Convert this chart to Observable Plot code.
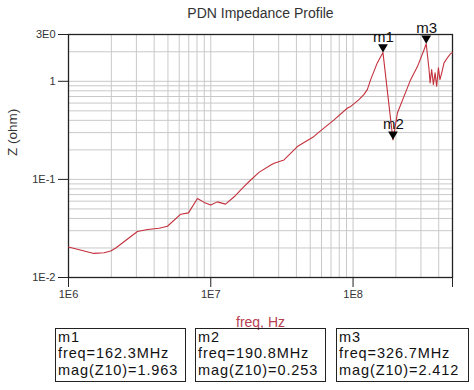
<!DOCTYPE html>
<html>
<head>
<meta charset="utf-8">
<script src="https://cdn.jsdelivr.net/npm/d3@7"></script>
<script src="https://cdn.jsdelivr.net/npm/@observablehq/plot@0.6"></script>
<style>
  html, body { margin: 0; padding: 0; background: #fff; }
  #wrap { position: relative; width: 474px; height: 390px; font-family: "Liberation Sans", Arial, sans-serif; }
  .mbox { position: absolute; top: 328px; height: 54px; border: 1.3px solid #222; box-sizing: border-box;
          font-size: 14.5px; line-height: 16.4px; color: #111; padding: 0 0 0 2px; letter-spacing: 0.9px; white-space: nowrap; overflow: hidden; }
</style>
</head>
<body>
<div id="wrap"></div>
<script>
// ---- data ----
const freqHz = [1.0e6, 1.51e6, 1.78e6, 1.98e6, 2.15e6, 3.05e6, 3.59e6, 4.33e6, 4.96e6, 6.15e6, 6.97e6, 8.06e6, 8.98e6,
  1.0e7, 1.11e7, 1.27e7, 1.46e7, 1.71e7, 1.91e7, 2.18e7, 2.64e7, 2.79e7, 3.27e7, 4.06e7, 5.32e7, 5.62e7, 7.35e7,
  9.14e7, 9.64e7, 1.1e8, 1.19e8, 1.26e8, 1.33e8, 1.48e8, 1.623e8, 1.908e8, 2.05e8, 2.28e8, 2.54e8, 2.84e8, 3.16e8,
  3.267e8, 3.42e8, 3.48e8, 3.57e8, 3.67e8, 3.77e8, 3.87e8, 3.98e8, 4.08e8, 4.20e8, 4.36e8, 4.61e8, 4.86e8, 5.0e8];
const zOhm = [0.0205, 0.0176, 0.0179, 0.0186, 0.0200, 0.0294, 0.0309, 0.0318, 0.0333, 0.0442, 0.0456, 0.064, 0.0583,
  0.0547, 0.059, 0.056, 0.0665, 0.0842, 0.0986, 0.118, 0.140, 0.146, 0.158, 0.216, 0.274, 0.295, 0.405,
  0.534, 0.555, 0.650, 0.731, 0.822, 1.04, 1.54, 1.963, 0.253, 0.475, 0.702, 1.04, 1.42, 2.11,
  2.412, 1.32, 0.963, 1.32, 0.925, 1.22, 0.889, 1.37, 1.04, 1.22, 1.54, 1.74, 1.92, 1.95];

const markerNames = ["m1", "m2", "m3"];
const markerFreq = [162.3e6, 190.8e6, 326.7e6];
const markerMag = [1.963, 0.253, 2.412];

const xTickValues = [1e6, 1e7, 1e8, 5e8];
const xTickLabels = ["1E6", "1E7", "1E8", "5E8"];
const yTickValues = [0.01, 0.1, 1, 3];
const yTickLabels = ["1E-2", "1E-1", "1", "3E0"];

const titleText = "PDN Impedance Profile";
const xLabel = "freq, Hz";
const yLabel = "Z (ohm)";

// ---- derived tables ----
const curve = freqHz.map((f, i) => ({f, z: zOhm[i]}));
const markers = markerNames.map((n, i) => ({name: n, f: markerFreq[i], z: markerMag[i]}));
const xGrid = [];
for (const dec of [1e6, 1e7, 1e8]) for (let k = 1; k <= 9; k++) { const v = k * dec; if (v <= 5e8) xGrid.push(v); }
const yGrid = [];
for (const dec of [0.01, 0.1, 1]) for (let k = 1; k <= 9; k++) { const v = k * dec; if (v <= 3) yGrid.push(v); }

const font = "'Liberation Sans', Arial, sans-serif";
const chart = Plot.plot({
  width: 474, height: 390,
  marginTop: 34, marginRight: 22, marginBottom: 113, marginLeft: 68,
  style: {fontFamily: font, background: "#fff"},
  x: {type: "log", domain: [1e6, 5e8]},
  y: {type: "log", domain: [0.01, 3]},
  marks: [
    Plot.gridX(xGrid, {stroke: "#c9c9c9", strokeOpacity: 1, strokeWidth: 1}),
    Plot.gridY(yGrid, {stroke: "#c9c9c9", strokeOpacity: 1, strokeWidth: 1}),
    Plot.frame({stroke: "#222", strokeWidth: 1.3}),
    Plot.axisX({ticks: xTickValues, tickFormat: (d) => xTickLabels[xTickValues.indexOf(d)], tickSize: 10, tickPadding: 3,
      fontSize: 11, fill: "#333", stroke: "#222", label: null}),
    Plot.axisY({ticks: yTickValues, tickFormat: (d) => yTickLabels[yTickValues.indexOf(d)], tickSize: 10, tickPadding: 3,
      fontSize: 11, fill: "#333", stroke: "#222", label: null}),
    Plot.line(curve, {x: "f", y: "z", stroke: "#c4303c", strokeWidth: 1.1}),
    Plot.dot(markers, {x: "f", y: "z", symbol: "triangle", rotate: 180, r: 3.6, fill: "#000", stroke: "none", dy: -5.6}),
    Plot.text(markers, {x: "f", y: "z", text: "name", dy: -11, lineAnchor: "bottom", fontSize: 15, fill: "#111", dx: 0.5}),
    Plot.text([titleText], {frameAnchor: "top", dy: -21, lineAnchor: "middle", fontSize: 14, fill: "#333"}),
    Plot.text([xLabel], {frameAnchor: "bottom", dy: 45, lineAnchor: "middle", fontSize: 14, fill: "#b8404f"}),
    Plot.text([yLabel], {frameAnchor: "left", dx: -56, rotate: -90, lineAnchor: "middle", fontSize: 13.5, fill: "#333"})
  ]
});
const wrap = document.getElementById("wrap");
wrap.appendChild(chart);

const boxLefts = [55, 195, 336];
const boxWidths = [131, 131, 133];
markers.forEach((m, i) => {
  const d = document.createElement("div");
  d.className = "mbox";
  d.style.left = boxLefts[i] + "px";
  d.style.width = boxWidths[i] + "px";
  d.innerHTML = `${m.name}<br>freq=${(m.f / 1e6).toFixed(1)}MHz<br>mag(Z10)=${m.z.toFixed(3)}`;
  wrap.appendChild(d);
});
</script>
</body>
</html>
